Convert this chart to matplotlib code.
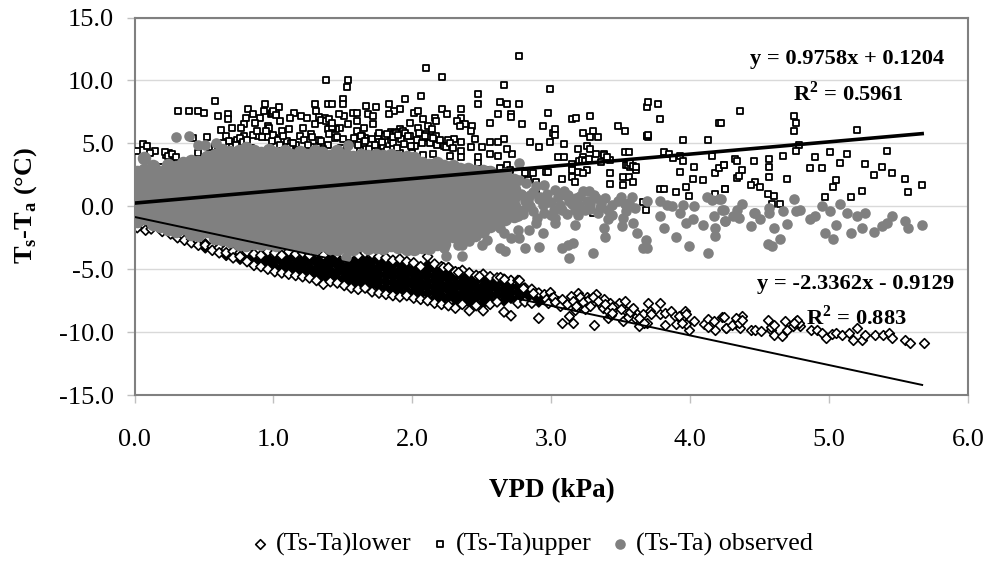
import matplotlib
matplotlib.use('Agg')
import matplotlib.pyplot as plt

plt.rcParams['font.family'] = ['Liberation Serif', 'DejaVu Serif']
plt.rcParams['mathtext.fontset'] = 'custom'
plt.rcParams['mathtext.rm'] = 'Liberation Serif'
plt.rcParams['mathtext.bf'] = 'Liberation Serif:bold'

x_ticks = [0.0, 1.0, 2.0, 3.0, 4.0, 5.0, 6.0]
y_ticks = [-15.0, -10.0, -5.0, 0.0, 5.0, 10.0, 15.0]

# trend lines, ends
trend_upper_x = [0.0, 5.67]
trend_upper_y = [0.25, 5.77]
trend_lower_x = [0.0, 5.67]
trend_lower_y = [-0.85, -14.2]

# lower limit, dense band read column by column
lower_col_x = [0.02, 0.08, 0.12, 0.2, 0.26, 0.31, 0.36, 0.41, 0.46, 0.51, 0.56, 0.61, 0.66, 0.71, 0.76, 0.81,
               0.86, 0.91, 0.96, 1.01, 1.06, 1.11, 1.16, 1.21, 1.26, 1.31, 1.36, 1.41, 1.46, 1.51, 1.56, 1.61,
               1.66, 1.71, 1.76, 1.81, 1.86, 1.91, 1.96, 2.01, 2.06, 2.11, 2.16, 2.21, 2.26, 2.31, 2.36, 2.41,
               2.46, 2.51, 2.56, 2.61, 2.66, 2.71, 2.76, 2.81, 2.86, 2.91]
lower_col_y = [
    [-1.5, -1.7], [-1.6, -1.9], [-1.8], [-1.9, -2.0], [-2.0, -2.2], [-2.3, -2.5], [-2.4, -2.7], [-2.6, -2.9],
    [-2.8, -3.1], [-3.0, -3.3, -3.1], [-3.2, -3.5], [-3.3, -3.7], [-3.4, -3.9, -3.7], [-3.6, -4.1], [-3.7, -4.2, -4.0],
    [-3.6, -4.0, -4.4], [-3.8, -4.3, -4.7], [-3.9, -4.4, -4.8], [-3.6, -4.1, -4.6, -5.0], [-3.7, -4.3, -4.8, -5.2],
    [-3.9, -4.4, -4.9, -5.3], [-3.6, -4.1, -4.6, -5.1, -5.4], [-3.8, -4.3, -4.8, -5.2, -5.5],
    [-3.7, -4.2, -4.6, -5.1, -5.6], [-3.9, -4.4, -4.9, -5.3, -5.7], [-3.7, -4.1, -4.5, -5.0, -5.5, -5.9],
    [-3.9, -4.3, -4.8, -5.2, -5.7, -6.2], [-3.6, -4.1, -4.6, -5.1, -5.5, -6.0], [-3.8, -4.3, -4.7, -5.2, -5.7, -6.1],
    [-3.9, -4.4, -4.9, -5.3, -5.8, -6.3], [-3.8, -4.2, -4.7, -5.1, -5.6, -6.1, -6.5],
    [-3.9, -4.4, -4.8, -5.3, -5.8, -6.2, -6.6], [-3.7, -4.2, -4.6, -5.1, -5.5, -6.0, -6.5],
    [-3.8, -4.3, -4.8, -5.2, -5.7, -6.2, -6.8], [-4.0, -4.4, -4.9, -5.4, -5.9, -6.4, -6.9],
    [-4.1, -4.6, -5.0, -5.5, -6.0, -6.5, -7.0], [-4.3, -4.7, -5.2, -5.6, -6.1, -6.6, -7.1],
    [-4.2, -4.6, -5.1, -5.6, -6.0, -6.4, -6.9, -7.2], [-4.4, -4.9, -5.3, -5.8, -6.2, -6.7, -7.1],
    [-4.5, -5.0, -5.4, -5.9, -6.3, -6.8, -7.3], [-4.8, -5.2, -5.6, -6.1, -6.5, -7.0, -7.4],
    [-4.0, -4.7, -5.1, -5.5, -6.0, -6.4, -6.9, -7.5], [-4.6, -5.0, -5.5, -5.9, -6.4, -6.8, -7.3, -7.7],
    [-4.8, -5.3, -5.7, -6.2, -6.6, -7.1, -7.5, -7.8], [-4.9, -5.4, -5.8, -6.3, -6.7, -7.2, -7.9],
    [-5.2, -5.6, -6.1, -6.5, -7.0, -7.4, -7.9, -8.1], [-5.1, -5.5, -6.0, -6.4, -6.9, -7.3, -7.8],
    [-5.3, -5.7, -6.2, -6.6, -7.1, -7.6, -8.3], [-5.5, -5.9, -6.4, -6.9, -7.3, -7.9],
    [-5.4, -5.8, -6.3, -6.7, -7.2, -7.7, -8.3], [-5.6, -6.0, -6.5, -7.0, -7.5, -7.8],
    [-5.7, -6.2, -6.6, -7.1, -7.6], [-5.8, -6.1, -6.6, -7.0, -7.5, -8.4], [-5.9, -6.4, -6.8, -7.3, -8.7],
    [-5.9, -6.4, -6.9, -7.4, -7.7], [-6.5, -6.9, -7.3, -7.6], [-6.6, -7.0, -7.4, -7.7], [-6.9, -7.3, -7.6, -8.9],
]
# lower limit, separate points
lower_x = [2.22, 2.26, 2.33, 2.48, 2.63, 2.66, 2.77, 2.8, 2.95, 2.99, 2.87, 3.08, 3.13, 3.16, 3.31, 3.19, 3.26,
           3.32, 3.17, 3.25, 3.42, 3.36, 3.49, 3.53, 3.41, 3.43, 3.52, 3.54, 3.61, 3.56, 3.63, 3.69, 3.7, 3.78,
           3.71, 3.78, 3.82, 3.86, 3.82, 3.89, 3.96, 3.9, 3.94, 3.99, 4.03, 3.97, 4.1, 4.13, 4.17, 4.18, 4.23,
           4.26, 4.13, 4.24, 4.26, 4.33, 4.37, 4.36, 4.44, 4.47, 4.51, 4.58, 4.6, 4.66, 4.68, 4.7, 4.76, 4.79,
           4.87, 4.91, 4.95, 4.98, 5.02, 5.05, 5.09, 5.14, 5.17, 5.2, 5.24, 5.26, 5.33, 5.39, 5.43, 5.45, 5.55,
           5.58, 5.68, 3.0, 3.05, 3.1, 3.2, 3.22, 3.3, 3.38, 3.46, 3.58, 3.66, 3.6, 4.35, 4.3, 4.56, 4.74, 4.78,
           2.96, 2.98, 3.01, 3.03, 3.06, 3.08, 3.11, 3.14, 3.16, 3.18, 3.21, 3.23, 3.24, 3.27, 3.28, 3.3, 3.34,
           3.37, 3.39, 3.41, 3.44, 3.44, 3.5, 3.55, 3.57, 3.59, 3.63, 3.67, 3.72, 3.92, 3.94, 3.97, 4.33, 4.35,
           4.37, 4.58, 4.6, 4.77, 4.75]
lower_y = [-4.8, -4.85, -5.2, -5.55, -5.65, -5.8, -5.85, -6.5, -7.0, -6.85, -6.9, -9.25, -8.75, -9.25, -9.4, -6.9,
           -7.2, -7.0, -8.25, -7.95, -7.7, -7.85, -7.7, -7.55, -8.9, -8.65, -9.1, -8.35, -8.5, -8.65, -9.55, -9.25,
           -7.7, -7.7, -8.3, -8.55, -8.5, -8.35, -9.4, -8.7, -8.35, -9.35, -8.9, -9.85, -9.15, -9.35, -9.35, -8.95,
           -9.15, -9.85, -8.8, -9.65, -9.6, -8.8, -9.7, -9.2, -8.75, -9.7, -9.85, -9.8, -9.95, -9.85, -10.2, -10.35,
           -9.1, -9.8, -9.15, -9.5, -9.8, -9.8, -10.05, -10.5, -10.15, -10.1, -10.2, -10.05, -10.6, -9.7, -10.6,
           -10.2, -10.2, -10.2, -10.05, -10.5, -10.6, -10.9, -10.9, -7.3, -7.5, -7.8, -7.4, -7.7, -7.6, -7.4, -8.0,
           -8.2, -8.6, -8.9, -9.0, -9.4, -9.05, -9.5, -9.3,
           -7.4, -7.7, -7.2, -7.6, -7.9, -7.4, -7.8, -7.1, -7.5, -7.9, -7.2, -7.6, -8.2, -7.4, -7.9, -7.2, -7.5,
           -8.1, -7.8, -8.3, -8.0, -8.5, -8.2, -8.8, -8.4, -8.1, -8.9, -9.3, -8.6, -8.7, -9.3, -8.6, -8.9, -9.3,
           -9.0, -9.6, -9.4, -9.0, -9.3]

# upper limit
upper_x = [1.38, 1.54, 1.53, 2.1, 0.58, 0.31, 0.39, 0.46, 0.5, 0.6, 0.67, 0.67, 0.82, 0.94, 1.04, 0.93, 1.3, 1.39, 1.42,
           1.5, 1.5, 1.67, 1.74, 1.83, 1.95, 2.06, 1.31, 1.57, 1.6, 1.91, 1.87, 2.01, 2.04, 1.83, 1.68, 1.72, 2.08,
           1.15, 1.2, 1.24, 1.12, 0.85, 0.9, 0.8, 0.87, 0.79, 1.05, 1.51, 1.47, 1.6, 1.54, 1.3, 1.98, 2.04, 2.11,
           0.62, 0.7, 0.77, 0.96, 1.11, 1.21, 1.41, 1.48, 1.72, 1.65, 1.6, 1.91, 0.66, 0.79, 0.89, 1.01, 1.06, 1.19,
           1.27, 1.33, 1.44, 1.5, 1.65, 1.74, 1.85, 1.98, 2.1, 2.02, 0.52, 0.42, 0.06, 0.09, 0.02, 0.15, 0.11, 0.23,
           0.28, 0.46, 0.54, 0.2, 0.36, 1.0, 1.02, 0.98, 1.35, 1.37, 1.33, 1.45, 1.43, 1.85, 1.87, 1.84, 0.97, 0.95,
           0.75, 0.8, 1.02, 1.09, 1.17, 1.27, 1.39, 1.62, 1.75, 1.79, 1.91, 2.0, 2.08, 0.25, 0.26, 0.72, 0.74, 1.66,
           1.64, 1.78, 1.77, 1.76, 1.9, 1.93, 1.95, 1.1, 1.13, 1.16, 2.1, 2.12,
           2.77, 2.21, 2.66, 2.47, 2.99, 2.47, 2.63, 2.68, 2.77, 2.21, 2.35, 2.25, 2.16, 2.35, 2.17, 2.62, 2.71, 2.71,
           2.56, 2.79, 2.98, 2.94, 2.32, 2.38, 2.34, 2.43, 2.14, 2.42, 2.17, 2.45, 3.01, 3.03, 3.03, 3.15, 3.18, 3.28,
           3.23, 3.3, 3.28, 3.34, 3.48, 3.53, 3.69, 3.7, 3.77, 3.78, 3.69, 3.7, 4.21, 3.95, 4.13, 2.85, 2.91, 2.99,
           3.09, 3.19, 3.26, 3.28, 3.32, 3.53, 3.56, 3.81, 3.85, 3.88, 3.93, 3.95, 4.16, 4.03, 3.93, 4.02, 4.09, 4.18,
           4.21, 4.24, 4.25, 3.97, 3.9, 3.99, 3.78, 3.81, 4.18, 3.42, 3.42, 3.52, 3.56, 3.52, 3.59, 3.61, 3.38, 3.39,
           3.36, 3.42, 3.54, 3.57, 3.23, 3.2, 3.15, 3.15, 3.19, 3.26, 3.23, 3.15, 3.08, 3.17, 3.05, 3.09, 2.96, 2.98,
           2.87, 2.81, 2.83, 2.89, 2.89, 2.72, 2.68, 2.66, 2.62, 2.56, 2.5, 2.56, 2.62, 2.47, 2.42, 2.35, 2.3, 2.26,
           2.2, 2.23, 2.35, 2.27, 2.15, 2.16, 2.35, 2.47, 2.53, 2.63, 2.68, 2.7, 3.3, 3.68, 3.66,
           4.36, 4.22, 4.75, 4.76, 4.75, 5.2, 4.78, 4.76, 5.42, 4.67, 4.9, 5.01, 5.13, 4.32, 4.34, 4.46, 4.57, 4.57,
           4.24, 4.37, 4.86, 4.95, 5.08, 5.26, 5.38, 5.32, 5.45, 5.55, 4.57, 4.7, 4.34, 4.35, 5.05, 5.03, 5.67, 4.47,
           4.44, 4.5, 4.25, 5.24, 5.57, 4.56, 4.6, 4.97, 5.16, 4.59, 4.65,
           0.22, 0.24, 0.27, 0.3, 0.68, 0.7, 0.73, 0.76, 0.78, 0.81, 0.84, 0.96, 0.99, 1.0, 1.03, 1.05, 1.07, 1.12,
           1.14, 1.18, 1.22, 1.25, 1.28, 1.32, 1.34, 1.36, 1.39, 1.4, 1.42, 1.46, 1.49, 1.55, 1.58, 1.61, 1.63, 1.66,
           1.69, 1.71, 1.73, 1.75, 1.78, 1.8, 1.82, 1.86, 1.88, 1.89, 1.92, 1.94, 1.97, 1.99, 2.03, 2.05, 2.07, 2.09,
           2.13, 2.15, 2.18, 2.2, 2.24, 2.27, 2.29, 0.58, 0.6, 0.64, 0.85, 0.88, 0.92, 1.34, 1.38, 1.4, 1.42, 1.76,
           1.8, 1.82, 1.86, 1.9, 0.99, 1.0, 1.02, 3.69, 3.7, 3.38, 3.4, 3.55, 3.57, 3.59, 3.61, 3.22, 3.24, 3.27]
upper_y = [10.05, 10.05, 9.5, 11.0, 8.4, 7.55, 7.55, 7.55, 7.4, 7.15, 7.35, 6.95, 7.7, 8.1, 7.85, 7.55, 8.1, 8.1, 8.1,
           8.55, 8.1, 7.95, 7.85, 8.1, 8.55, 8.8, 7.55, 7.4, 7.4, 7.7, 7.55, 7.4, 7.55, 7.3, 7.3, 7.15, 6.9,
           7.4, 7.15, 7.0, 7.0, 7.3, 7.0, 7.0, 6.6, 6.5, 6.75, 7.15, 7.3, 6.75, 6.5, 6.5, 6.6, 6.2, 6.35,
           6.05, 6.2, 6.2, 6.35, 6.1, 6.2, 6.35, 6.2, 6.5, 6.2, 5.95, 6.1, 5.55, 5.55, 5.55, 5.4, 5.95, 5.55,
           5.75, 5.3, 5.4, 5.35, 5.05, 4.9, 5.3, 5.55, 5.4, 4.8, 5.5, 5.4, 4.95, 4.8, 4.4, 4.4, 4.2, 4.1,
           3.85, 4.2, 4.2, 3.15, 3.15, 7.5, 7.45, 7.35, 6.9, 7.0, 7.1, 6.1, 6.25, 5.9, 5.8, 5.7, 6.2, 5.95,
           4.5, 4.9, 4.75, 4.8, 4.5, 4.7, 4.9, 4.5, 4.2, 4.75, 4.2, 4.2, 4.1, 4.2, 4.0, 5.1, 5.3, 5.4,
           5.6, 5.3, 5.5, 5.15, 5.9, 6.0, 5.85, 5.2, 5.05, 4.9, 5.75, 5.5,
           11.95, 10.3, 9.6, 8.9, 9.35, 8.1, 8.25, 8.1, 8.1, 7.7, 7.7, 7.3, 7.0, 7.0, 6.75, 7.3, 7.3, 7.1,
           6.6, 6.5, 7.4, 6.35, 6.75, 6.5, 6.35, 6.35, 6.1, 5.95, 5.6, 5.35, 5.85, 6.1, 5.7, 6.9, 7.0, 7.15,
           5.8, 5.95, 5.5, 5.5, 6.35, 5.95, 7.85, 8.25, 8.1, 6.9, 5.6, 5.5, 6.6, 5.25, 5.25, 5.1, 4.7, 5.1,
           4.95, 4.55, 4.8, 4.55, 4.15, 4.3, 4.3, 4.3, 4.15, 3.85, 4.0, 3.6, 4.0, 3.15, 2.75, 2.2, 2.1, 2.65,
           3.05, 3.3, 1.4, 1.5, 1.1, 0.85, 1.4, 1.4, 0.95, 2.65, 1.8, 2.35, 2.35, 1.65, 1.95, 2.9, 4.15, 3.95,
           3.5, 3.65, 3.3, 3.15, 3.9, 3.6, 3.35, 2.9, 2.75, 2.9, 2.65, 2.35, 2.2, 1.9, 3.95, 3.9, 2.75, 2.75,
           2.65, 2.65, 2.1, 1.95, 1.25, 4.15, 4.55, 5.35, 5.1, 5.1, 4.7, 4.15, 4.0, 3.9, 4.7, 5.1, 5.35, 5.25,
           4.95, 4.8, 4.4, 4.0, 4.15, 3.45, 3.95, 3.45, 2.9, 3.05, 3.3, 2.9, -0.55, -0.3, 0.3,
           7.55, 6.6, 7.15, 6.6, 5.95, 6.05, 4.85, 4.4, 4.4, 4.0, 3.9, 4.3, 4.15, 3.75, 3.6, 3.6, 3.75, 3.15,
           3.3, 2.9, 3.05, 3.05, 3.45, 3.35, 3.15, 2.5, 2.65, 2.2, 2.35, 2.2, 2.25, 2.4, 2.1, 1.5, 1.65, 1.95,
           1.65, 1.5, 1.4, 1.25, 1.1, 1.0, 0.85, 0.7, 0.7, 0.15, 0.15,
           4.3, 4.0, 4.15, 3.95, 5.2, 4.7, 4.9, 5.4, 5.1, 5.3, 4.6, 5.5, 5.2, 5.7, 5.3, 4.85, 5.6, 4.7,
           5.0, 4.45, 5.3, 4.9, 5.5, 4.7, 5.15, 4.55, 6.1, 5.75, 6.3, 5.5, 4.6, 5.0, 5.4, 4.9, 5.6, 5.2,
           4.55, 5.35, 4.85, 5.55, 5.1, 5.7, 4.5, 5.05, 5.8, 4.65, 5.35, 4.95, 5.6, 4.75, 5.3, 5.85, 5.05, 5.6,
           5.0, 5.4, 4.85, 5.3, 4.7, 5.05, 4.6, 4.7, 4.5, 5.0, 5.7, 6.0, 5.5, 6.85, 6.75, 6.95, 6.6, 5.8,
           5.6, 5.75, 5.5, 5.65, 7.4, 7.6, 7.25, 5.6, 5.65, 4.1, 3.9, 3.3, 3.4, 3.2, 3.1, 3.7, 3.6, 3.75]

# observed, solid mass read column by column
observed_col_x = [0.02, 0.07, 0.13, 0.18, 0.24, 0.3, 0.35, 0.41, 0.46, 0.52, 0.58, 0.63, 0.69, 0.75, 0.8, 0.86,
                  0.91, 0.97, 1.02, 1.08, 1.13, 1.19, 1.24, 1.3, 1.35, 1.41, 1.46, 1.52, 1.57, 1.63, 1.68, 1.74,
                  1.79, 1.85, 1.9, 1.96, 2.01, 2.07, 2.12, 2.18, 2.23, 2.29, 2.34, 2.4, 2.45, 2.51, 2.56, 2.62,
                  2.67, 2.73]
observed_col_y = [
    [-1.2, -0.5, 0.2, 0.9, 1.7, 2.7], [-0.9, -0.2, 0.5, 1.3, 2.1, 2.9, 3.8], [-1.4, -0.6, 0.1, 0.8, 1.6, 2.4, 3.2],
    [-1.6, -0.9, -0.2, 0.5, 1.2, 2.0, 2.7], [-1.8, -1.1, -0.4, 0.4, 1.1, 1.8, 2.6, 3.3],
    [-2.0, -1.2, -0.5, 0.2, 0.9, 1.6, 2.4, 3.1], [-1.7, -1.0, -0.2, 0.5, 1.3, 2.0, 2.7, 3.4],
    [-2.2, -1.5, -0.7, 0.0, 0.7, 1.5, 2.2, 2.9, 3.6], [-2.3, -1.6, -0.8, -0.1, 0.6, 1.3, 2.1, 2.8, 3.5],
    [-2.0, -1.2, -0.5, 0.3, 1.0, 1.7, 2.5, 3.2, 3.9], [-2.5, -1.8, -1.0, -0.3, 0.4, 1.2, 1.9, 2.6, 3.4, 4.1],
    [-2.6, -1.9, -1.2, -0.4, 0.3, 1.0, 1.8, 2.5, 3.2, 3.9, 4.5], [-2.8, -2.1, -1.4, -0.6, 0.1, 0.8, 1.6, 2.3, 3.0, 3.7, 4.3],
    [-3.0, -2.3, -1.5, -0.8, 0.0, 0.7, 1.4, 2.1, 2.9, 3.6, 4.4], [-3.1, -2.6, -1.8, -1.1, -0.4, 0.4, 1.1, 1.8, 2.6, 3.3, 4.0, 4.6],
    [-2.9, -2.2, -1.5, -0.7, 0.0, 0.7, 1.5, 2.2, 2.9, 3.7, 4.4], [-3.0, -2.4, -1.7, -0.9, -0.2, 0.5, 1.3, 2.0, 2.7, 3.5, 4.2],
    [-2.9, -2.1, -1.4, -0.7, 0.1, 0.8, 1.5, 2.3, 3.0, 3.7, 4.5], [-3.1, -2.4, -1.6, -0.9, -0.2, 0.6, 1.3, 2.0, 2.8, 3.5, 4.2],
    [-2.9, -2.2, -1.4, -0.7, 0.0, 0.8, 1.5, 2.2, 3.0, 3.7, 4.4], [-3.0, -2.5, -1.7, -1.0, -0.3, 0.5, 1.2, 1.9, 2.7, 3.4, 4.1],
    [-3.1, -2.3, -1.6, -0.8, -0.1, 0.6, 1.4, 2.1, 2.9, 3.6, 4.3], [-3.2, -2.5, -1.8, -1.1, -0.3, 0.4, 1.1, 1.9, 2.6, 3.3, 4.1],
    [-3.3, -2.6, -1.9, -1.2, -0.4, 0.3, 1.0, 1.8, 2.5, 3.2, 4.0, 4.4], [-3.1, -2.4, -1.7, -0.9, -0.2, 0.5, 1.3, 2.0, 2.7, 3.5, 4.2],
    [-3.3, -2.6, -1.8, -1.1, -0.4, 0.4, 1.1, 1.8, 2.6, 3.3, 4.0], [-3.4, -2.7, -2.0, -1.2, -0.5, 0.2, 1.0, 1.7, 2.4, 3.2, 3.9, 4.4],
    [-3.2, -2.5, -1.7, -1.0, -0.3, 0.5, 1.2, 1.9, 2.7, 3.4, 4.1], [-3.4, -2.7, -2.0, -1.2, -0.5, 0.2, 1.0, 1.7, 2.4, 3.2, 3.9],
    [-3.1, -2.4, -1.7, -0.9, -0.2, 0.5, 1.3, 2.0, 2.7, 3.5, 4.1], [-3.3, -2.6, -1.8, -1.1, -0.4, 0.4, 1.1, 1.8, 2.6, 3.3, 4.0],
    [-3.2, -2.4, -1.7, -1.0, -0.2, 0.5, 1.2, 2.0, 2.7, 3.4, 4.1], [-3.3, -2.6, -1.9, -1.2, -0.4, 0.3, 1.0, 1.8, 2.5, 3.2, 4.0],
    [-3.1, -2.4, -1.6, -0.9, -0.2, 0.6, 1.3, 2.0, 2.8, 3.5, 4.1], [-3.2, -2.7, -2.0, -1.2, -0.5, 0.2, 1.0, 1.7, 2.4, 3.2, 3.9],
    [-3.4, -2.5, -1.7, -1.0, -0.3, 0.5, 1.2, 1.9, 2.7, 3.4, 3.9], [-3.4, -2.8, -2.1, -1.4, -0.6, 0.1, 0.8, 1.6, 2.3, 3.0, 3.8],
    [-3.2, -2.5, -1.8, -1.0, -0.3, 0.4, 1.2, 1.9, 2.6, 3.4], [-3.3, -2.6, -1.9, -1.1, -0.4, 0.3, 1.1, 1.8, 2.5, 3.3],
    [-3.0, -2.2, -1.5, -0.8, 0.0, 0.7, 1.4, 2.2, 2.9, 3.4], [-3.0, -2.6, -1.8, -1.1, -0.4, 0.4, 1.1, 1.8, 2.6, 3.2],
    [-2.4, -1.7, -0.9, -0.2, 0.5, 1.3, 2.0, 2.7, 3.2], [-2.7, -2.0, -1.3, -0.5, 0.2, 0.9, 1.7, 2.4, 3.0],
    [-2.5, -1.7, -1.0, -0.3, 0.5, 1.2, 1.9, 2.7, 3.0], [-2.3, -1.5, -0.8, 0.0, 0.7, 1.4, 2.2, 2.8],
    [-2.0, -1.3, -0.5, 0.2, 0.9, 1.7, 2.4, 2.8], [-1.6, -0.8, -0.1, 0.6, 1.4, 2.1, 2.7],
    [-1.3, -0.6, 0.2, 0.9, 1.6, 2.4], [-1.0, -0.3, 0.5, 1.2, 1.9, 2.6], [-0.8, 0.0, 0.7, 1.4, 2.1],
]
# observed, separate points
observed_x = [0.3, 0.39, 0.46, 0.51, 0.59, 1.54, 1.52,
              2.77, 3.69, 3.78, 3.83, 3.87, 3.95, 4.03, 4.12, 4.16, 4.21, 4.23, 4.17, 4.25, 3.78, 3.93, 4.02, 3.97,
              4.09, 4.18, 4.18, 3.81, 3.9, 3.99, 4.13, 3.68, 3.62, 3.66, 3.69, 3.59, 3.51, 3.52, 3.54, 3.56, 3.48,
              3.41, 3.41, 3.38, 3.39, 3.3, 3.13, 3.16, 3.12, 3.08, 3.17, 3.03, 2.91, 2.81, 2.94, 2.84, 2.89, 2.76,
              2.77, 2.71, 2.66, 2.63, 2.67, 2.63, 2.5, 2.54, 2.36, 2.33, 2.41, 2.41, 2.51, 2.36, 2.24, 2.23, 2.14,
              2.27, 2.2, 2.81, 2.85, 2.95, 3.03, 3.09, 3.23, 3.27, 3.18, 3.13, 3.32, 3.39, 3.02, 3.08, 2.95, 2.87,
              2.8, 2.82, 2.89, 2.77, 3.17, 3.24, 3.03, 2.78, 2.85, 2.92, 2.98, 3.12, 3.2, 3.28, 3.35,
              2.79, 2.83, 2.87, 2.91, 2.97, 3.0, 3.05, 3.1, 3.15, 3.21, 3.26, 3.31, 3.36, 3.44, 3.5, 3.53, 3.58, 3.6,
              2.76, 2.8, 2.9, 2.94, 3.0, 3.06, 3.11, 3.19, 3.28, 3.34, 3.44,
              4.22, 4.75, 4.37, 4.95, 5.08, 4.24, 4.34, 4.46, 4.57, 4.57, 4.67, 4.76, 4.79, 5.01, 5.13, 5.2, 5.26,
              5.45, 4.31, 4.35, 4.25, 4.47, 4.5, 4.86, 4.9, 5.55, 5.42, 5.38, 5.57, 5.67, 4.44, 4.7, 5.05, 5.24,
              4.6, 4.97, 5.16, 5.32, 5.03, 4.65, 4.56, 4.59]
observed_y = [5.5, 5.6, 4.9, 4.9, 5.0, 4.9, -4.0,
              3.45, 0.4, 0.4, 0.1, 0.0, 0.1, 0.0, 0.7, 0.5, 0.55, -0.3, -0.8, -1.2, -0.8, -0.55, -1.05, -1.35,
              -1.5, -1.75, -2.35, -1.75, -2.45, -3.15, -3.7, -2.7, -2.15, -3.35, -3.35, -1.35, -1.6, -0.95, -0.4, 0.25, 0.4,
              -0.3, -1.05, -1.75, -2.45, -3.7, -4.1, -2.95, -3.05, -3.35, -1.5, -1.35, -3.25, -3.35, -2.15, -1.85, -1.35, -1.85,
              -2.55, -2.55, -2.15, -1.75, -3.55, -3.35, -3.05, -2.7, -3.05, -3.05, -2.8, -2.0, -1.75, -3.95, -3.95, -3.35, -3.05,
              -2.25, -2.4, 0.4, 0.0, 1.7, 1.3, 1.25, 1.2, 1.2, 0.65, 0.4, 0.65, 0.65, -0.3, -0.3, -0.55, -0.4,
              -0.3, 1.85, 1.6, 2.1, -0.3, -0.3, -0.95, 1.0, 0.9, 0.7, 0.3, 0.9, 0.1, 0.2, -0.1,
              0.9, 0.5, 1.1, 0.6, 1.0, 0.3, 0.7, 0.9, 0.2, 0.8, 0.4, 0.9, 0.2, 0.1, 0.7, 0.2, 0.7, -0.1,
              -0.8, -0.6, -0.9, 0.1, -0.7, 0.1, -0.6, -0.7, -0.2, -0.5, -0.7,
              0.55, 0.55, 0.2, 0.0, 0.15, -0.3, -0.3, -0.55, -0.15, -0.55, -0.4, -0.35, -0.3, -0.4, -0.55, -0.8, -0.5,
              -0.8, -0.8, -0.95, -1.2, -0.55, -1.05, -1.05, -0.8, -1.2, -1.35, -1.6, -1.75, -1.5, -1.6, -1.45, -1.5, -1.75,
              -1.75, -2.15, -2.15, -2.05, -2.6, -2.6, -3.0, -3.15]


fig = plt.figure(figsize=(10, 5.66), dpi=100)
ax = fig.add_axes([0.1345, 1 - 395 / 566, 0.8335, 377.5 / 566])

# band: middle of each column overlaps solid, ends stay open
band_x, band_y, band_face = [], [], []
for cx, cy in zip(lower_col_x, lower_col_y):
    for i, v in enumerate(cy):
        band_x.append(cx)
        band_y.append(v)
        band_face.append('white' if i == 0 or i == len(cy) - 1 else 'black')
order = sorted(range(len(band_x)), key=lambda i: band_face[i] == 'white')
ax.scatter([band_x[i] for i in order], [band_y[i] for i in order], s=26, marker='D',
           facecolors=[band_face[i] for i in order], edgecolors='black', linewidths=1.2, zorder=2)
ax.scatter(lower_x, lower_y, s=24, marker='D', facecolor='white', edgecolor='black', linewidth=1.2, zorder=2,
           label='(Ts-Ta)lower')
ax.scatter(upper_x, upper_y, s=20, marker='s', facecolor='white', edgecolor='black', linewidth=1.3, zorder=3,
           label='(Ts-Ta)upper')

mass_x, mass_y = [], []
for cx, cy in zip(observed_col_x, observed_col_y):
    for v in cy:
        mass_x.append(cx)
        mass_y.append(v)
ax.scatter(mass_x, mass_y, s=95, marker='o', color='#808080', linewidth=0, zorder=4)
ax.scatter(observed_x, observed_y, s=58, marker='o', color='#808080', linewidth=0, zorder=4,
           label='(Ts-Ta) observed')
ax.plot(trend_upper_x, trend_upper_y, color='black', linewidth=2.6, zorder=5)
ax.plot(trend_lower_x, trend_lower_y, color='black', linewidth=1.4, zorder=5)

ax.set_xlim(0, 6)
ax.set_ylim(-15, 15)
ax.set_xticks(x_ticks)
ax.set_yticks(y_ticks)
ax.set_xticklabels(['%.1f' % v for v in x_ticks])
ax.set_yticklabels(['%.1f' % v for v in y_ticks])
ax.tick_params(labelsize=19, length=5.8, width=1, color='#c0c0c0')
ax.tick_params(axis='x', pad=19)
ax.tick_params(axis='y', pad=9)
ax.grid(axis='y', color='#d9d9d9', linewidth=1)
ax.set_axisbelow(True)
for s in ax.spines.values():
    s.set_color('#808080')
    s.set_linewidth(1.5)

fig.text(0.552, 1 - 491 / 566, 'VPD (kPa)', fontsize=19.5, fontweight='bold', ha='center', va='center')
fig.text(0.026, 1 - 205 / 566, r'T$_{\mathbf{s}}$-T$_{\mathbf{a}}$ ($\mathbf{\degree}$C)', fontsize=19,
         fontweight='bold', rotation=90, ha='center', va='center')

fig.text(0.8475, 1 - 59 / 566, 'y = 0.9758x + 0.1204', fontsize=16.2, fontweight='bold', ha='center', va='center', zorder=9)
fig.text(0.848, 1 - 93 / 566, r'R$^{\mathbf{2}}$ = 0.5961', fontsize=16.2, fontweight='bold', ha='center', va='center', zorder=9)
fig.text(0.8555, 1 - 284 / 566, 'y = -2.3362x - 0.9129', fontsize=16.2, fontweight='bold', ha='center', va='center', zorder=9)
fig.text(0.856, 1 - 318 / 566, r'R$^{\mathbf{2}}$ = 0.883', fontsize=16.2, fontweight='bold', ha='center', va='center', zorder=9)

fig.legend(loc='center', bbox_to_anchor=(0.5285, 1 - 544 / 566), ncol=3, frameon=False, fontsize=18.8,
           scatterpoints=1, handletextpad=0.0, columnspacing=0.5, handlelength=1.2)

fig.savefig('out.png', dpi=100)
